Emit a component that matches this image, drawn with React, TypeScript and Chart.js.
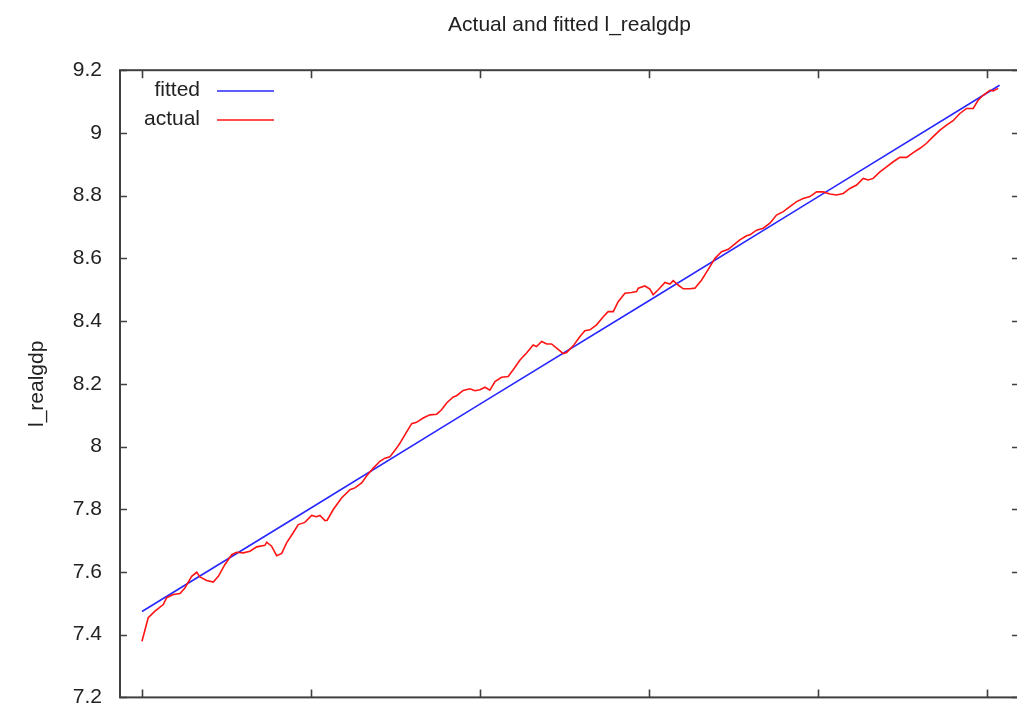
import React, { useEffect, useRef } from "react";
import { Chart, registerables } from "chart.js";

Chart.register(...registerables);

const actualYears = [
  1950.0, 1950.37, 1950.77, 1951.26, 1951.46, 1951.85, 1952.25, 1952.54, 1952.94, 1953.24,
  1953.43, 1953.83, 1954.22, 1954.52, 1954.91, 1955.31, 1955.6, 1956.0, 1956.39, 1956.79,
  1957.28, 1957.38, 1957.67, 1957.97, 1958.27, 1958.56, 1958.95, 1959.25, 1959.64, 1960.04,
  1960.33, 1960.53, 1960.83, 1960.96, 1961.32, 1961.81, 1962.31, 1962.6, 1963.0, 1963.3,
  1963.69, 1964.08, 1964.38, 1964.67, 1965.07, 1965.27, 1965.62, 1965.96, 1966.25, 1966.64,
  1967.04, 1967.44, 1967.73, 1968.03, 1968.42, 1968.62, 1969.01, 1969.41, 1969.7, 1970.0,
  1970.3, 1970.59, 1970.89, 1971.28, 1971.67, 1971.97, 1972.37, 1972.76, 1973.15, 1973.35,
  1973.65, 1973.95, 1974.24, 1974.54, 1974.93, 1975.13, 1975.52, 1975.92, 1976.21, 1976.51,
  1976.9, 1977.3, 1977.59, 1977.89, 1978.18, 1978.58, 1978.97, 1979.27, 1979.37, 1979.76,
  1980.06, 1980.25, 1980.55, 1980.95, 1981.24, 1981.44, 1981.73, 1982.03, 1982.43, 1982.72,
  1983.12, 1983.51, 1983.91, 1984.3, 1984.7, 1985.09, 1985.38, 1985.78, 1985.98, 1986.37,
  1986.76, 1987.16, 1987.55, 1987.95, 1988.34, 1988.74, 1989.13, 1989.53, 1989.92, 1990.31,
  1990.71, 1991.1, 1991.5, 1991.89, 1992.29, 1992.68, 1992.98, 1993.27, 1993.67, 1994.06,
  1994.46, 1994.85, 1995.25, 1995.64, 1996.04, 1996.43, 1996.82, 1997.22, 1997.61, 1998.0,
  1998.4, 1998.8, 1999.19, 1999.48, 1999.78, 2000.18, 2000.37, 2000.67,
];

const actualValues = [
  7.379, 7.454, 7.475, 7.496, 7.518, 7.528, 7.531, 7.549, 7.586, 7.599,
  7.584, 7.573, 7.568, 7.586, 7.624, 7.655, 7.663, 7.661, 7.666, 7.68,
  7.685, 7.695, 7.682, 7.652, 7.659, 7.693, 7.725, 7.751, 7.758, 7.78,
  7.776, 7.78, 7.764, 7.765, 7.799, 7.836, 7.862, 7.868, 7.884, 7.907,
  7.931, 7.953, 7.963, 7.967, 7.995, 8.011, 8.043, 8.073, 8.077, 8.091,
  8.101, 8.103, 8.117, 8.139, 8.158, 8.162, 8.179, 8.184, 8.178, 8.181,
  8.189, 8.18, 8.207, 8.221, 8.223, 8.245, 8.276, 8.298, 8.324, 8.319,
  8.335, 8.327, 8.327, 8.314, 8.296, 8.3, 8.321, 8.351, 8.369, 8.372,
  8.388, 8.414, 8.43, 8.43, 8.462, 8.489, 8.491, 8.494, 8.505, 8.512,
  8.502, 8.484, 8.5, 8.523, 8.518, 8.529, 8.515, 8.503, 8.503, 8.505,
  8.531, 8.565, 8.6, 8.621, 8.629, 8.646, 8.659, 8.672, 8.675, 8.69,
  8.696, 8.712, 8.738, 8.749, 8.765, 8.781, 8.791, 8.797, 8.812, 8.812,
  8.805, 8.802, 8.807, 8.823, 8.834, 8.855, 8.85, 8.855, 8.876, 8.892,
  8.908, 8.922, 8.922, 8.937, 8.951, 8.967, 8.988, 9.009, 9.025, 9.039,
  9.062, 9.078, 9.078, 9.104, 9.12, 9.136, 9.134, 9.142,
];

// Fitted trend, read at the x tick positions and the end of the sample
const fittedYears = [1950, 1960, 1970, 1980, 1990, 2000.75];
const fittedValues = [7.474, 7.804, 8.135, 8.465, 8.796, 9.152];

const xTickYears = [1950, 1960, 1970, 1980, 1990, 2000];
const yTickValues = [7.2, 7.4, 7.6, 7.8, 8.0, 8.2, 8.4, 8.6, 8.8, 9.0, 9.2];

const FONT = '"Liberation Sans", Arial, sans-serif';
const TEXT = "#222222";
const FRAME = "#404040";
const BLUE = "rgb(40,40,255)";
const RED = "rgb(255,20,20)";

const framePlugin = {
  id: "gretlFrame",
  afterDraw(chart: any) {
    const { ctx, chartArea: a, scales } = chart;
    const xs = scales.x;
    const ys = scales.y;
    ctx.save();
    ctx.strokeStyle = FRAME;
    ctx.lineWidth = 1.6;
    ctx.beginPath();
    for (const v of yTickValues) {
      const py = Math.round(ys.getPixelForValue(v)) + 0.5;
      ctx.moveTo(a.left, py);
      ctx.lineTo(a.left + 7, py);
      ctx.moveTo(a.right - 7, py);
      ctx.lineTo(a.right, py);
    }
    for (const v of xTickYears) {
      const px = Math.round(xs.getPixelForValue(v)) + 0.5;
      ctx.moveTo(px, a.bottom);
      ctx.lineTo(px, a.bottom - 8);
      ctx.moveTo(px, a.top);
      ctx.lineTo(px, a.top + 8);
    }
    ctx.stroke();
    ctx.lineWidth = 2;
    ctx.strokeRect(a.left, a.top, a.right - a.left, a.bottom - a.top);

    // legend: label on the left, line sample on the right
    ctx.font = `21px ${FONT}`;
    ctx.fillStyle = TEXT;
    ctx.textAlign = "right";
    ctx.textBaseline = "middle";
    const items = [
      { label: "fitted", color: BLUE, y: 91 },
      { label: "actual", color: RED, y: 120 },
    ];
    for (const it of items) {
      ctx.fillText(it.label, 200, it.y - 1);
      ctx.strokeStyle = it.color;
      ctx.lineWidth = 1.6;
      ctx.beginPath();
      ctx.moveTo(217, it.y);
      ctx.lineTo(274, it.y);
      ctx.stroke();
    }
    ctx.restore();
  },
};

export default function App() {
  const ref = useRef<HTMLCanvasElement | null>(null);

  useEffect(() => {
    if (!ref.current) return;
    const chart = new Chart(ref.current, {
      type: "line",
      data: {
        datasets: [
          {
            label: "actual",
            data: actualYears.map((x, i) => ({ x, y: actualValues[i] })),
            borderColor: RED,
            borderWidth: 1.6,
            pointRadius: 0,
            tension: 0,
            fill: false,
          },
          {
            label: "fitted",
            data: fittedYears.map((x, i) => ({ x, y: fittedValues[i] })),
            borderColor: BLUE,
            borderWidth: 1.6,
            pointRadius: 0,
            tension: 0,
            fill: false,
          },
        ],
      },
      options: {
        animation: false,
        responsive: false,
        maintainAspectRatio: false,
        devicePixelRatio: 1,
        layout: { padding: { left: 0, right: 5, top: 0, bottom: 0 } },
        plugins: {
          legend: { display: false },
          tooltip: { enabled: false },
          title: {
            display: true,
            text: "Actual and fitted l_realgdp",
            fullSize: false,
            color: TEXT,
            font: { family: FONT, size: 21, weight: "normal" },
            padding: { top: 13, bottom: 32 },
          },
        },
        scales: {
          x: {
            type: "linear",
            min: 1948.7,
            max: 2001.9,
            ticks: { display: false },
            grid: { display: false },
            border: { display: false },
            afterFit(s: any) {
              s.height = 22;
            },
          },
          y: {
            type: "linear",
            min: 7.2,
            max: 9.2,
            ticks: {
              stepSize: 0.2,
              padding: 10,
              color: TEXT,
              font: { family: FONT, size: 21 },
              callback: (v: any) => String(Number(Number(v).toFixed(1))),
            },
            grid: { display: false },
            border: { display: false },
            title: {
              display: true,
              text: "l_realgdp",
              color: TEXT,
              font: { family: FONT, size: 21 },
              padding: { top: 25, bottom: 0 },
            },
            afterFit(s: any) {
              s.width = 120;
            },
          },
        },
      },
      plugins: [framePlugin],
    });
    return () => chart.destroy();
  }, []);

  return (
    <div
      style={{
        position: "fixed",
        left: 0,
        top: 0,
        width: 1017,
        height: 707,
        overflow: "hidden",
        background: "#ffffff",
      }}
    >
      <canvas ref={ref} width={1024} height={720} style={{ display: "block", width: 1024, height: 720 }} />
    </div>
  );
}
